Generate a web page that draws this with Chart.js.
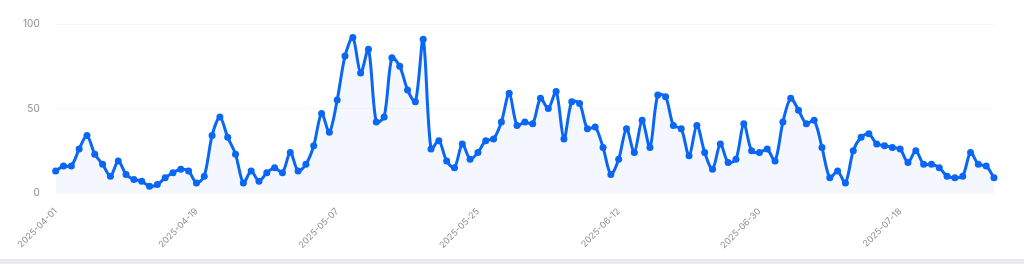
<!DOCTYPE html>
<html>
<head>
<meta charset="utf-8">
<script src="https://cdn.jsdelivr.net/npm/chart.js@4"></script>
<style>
  html, body { margin: 0; padding: 0; background: #fff; }
  body { width: 1024px; height: 264px; overflow: hidden; font-family: Inter, sans-serif; }
  #wrap { position: relative; width: 1024px; height: 259px; }
  #footer { height: 5px; background: #e9e9ee; }
</style>
</head>
<body>
<div id="wrap"><canvas id="chart"></canvas></div>
<div id="footer"></div>
<script>
const START_DATE = "2025-04-01";
const TICK_EVERY = 18;
const Y_TICKS = [0, 50, 100];

const values = [
    13, 16, 16, 26, 34, 23, 17, 10, 19, 11,
    8, 7, 4, 5, 9, 12, 14, 13, 6, 10,
    34, 45, 33, 23, 6, 13, 7, 12, 15, 12,
    24, 13, 17, 28, 47, 36, 55, 81, 92, 71,
    85, 42, 45, 80, 75, 61, 54, 91, 26, 31,
    19, 15, 29, 20, 24, 31, 32, 42, 59, 40,
    42, 41, 56, 50, 60, 32, 54, 53, 38, 39,
    27, 11, 20, 38, 24, 43, 27, 58, 57, 40,
    38, 22, 40, 24, 14, 29, 18, 20, 41, 25,
    24, 26, 19, 42, 56, 49, 41, 43, 27, 9,
    13, 6, 25, 33, 35, 29, 28, 27, 26, 18,
    25, 17, 17, 15, 10, 9, 10, 24, 17, 16,
    9
];

// one label per day, starting at START_DATE
const labels = [];
const d0 = new Date(START_DATE + "T00:00:00Z");
for (let i = 0; i < values.length; i++) {
    const d = new Date(d0.getTime() + i * 86400000);
    labels.push(d.toISOString().slice(0, 10));
}

const BLUE = "#0a66f5";

new Chart(document.getElementById("chart").getContext("2d"), {
    type: "line",
    data: {
        labels: labels,
        datasets: [
            {
                data: values,
                borderColor: BLUE,
                backgroundColor: "rgba(40, 100, 240, 0.05)",
                borderWidth: 3,
                pointRadius: 3.5,
                pointBackgroundColor: BLUE,
                pointBorderWidth: 0,
                tension: 0.3,
                fill: true,
            },
        ],
    },
    options: {
        responsive: true,
        maintainAspectRatio: false,
        animation: false,
        layout: {
            padding: { left: 7, right: 30, top: 24, bottom: 3 },
        },
        plugins: {
            legend: { display: false },
            tooltip: { enabled: false },
        },
        scales: {
            x: {
                offset: false,
                grid: { display: false },
                border: { display: false },
                ticks: {
                    autoSkip: false,
                    maxRotation: 45,
                    minRotation: 45,
                    padding: 5,
                    color: "#8e8e9c",
                    font: { family: "Inter", size: 9 },
                    callback: function (value, index) {
                        return index % TICK_EVERY === 0 ? labels[index] : "";
                    },
                },
            },
            y: {
                min: 0,
                max: 100,
                afterBuildTicks: (axis) => {
                    axis.ticks = Y_TICKS.map((v) => ({ value: v }));
                },
                grid: { color: "rgba(0,0,0,0.03)", drawTicks: false },
                border: { display: false },
                ticks: {
                    padding: 16,
                    color: "#8e8e9c",
                    font: { family: "Inter", size: 10 },
                },
            },
        },
    },
});
</script>
</body>
</html>
